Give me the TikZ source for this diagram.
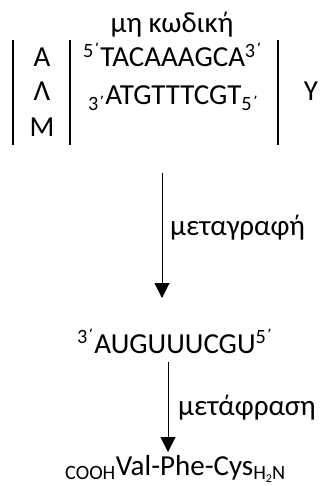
\documentclass[tikz,border=0pt]{standalone}
\usepackage{fontspec}
\setmainfont{Carlito}
\usetikzlibrary{arrows.meta}
\newcommand{\pr}{΄}
\begin{document}
\begin{tikzpicture}[x=1pt,y=-1pt,
  txt/.style={inner sep=0pt,font=\fontsize{29}{33}\selectfont},
  bar/.style={line width=2pt},
  flow/.style={line width=1pt,-{Triangle[length=15pt,width=15pt]}}]
\useasboundingbox (0,0) rectangle (332,486);
\node[txt,anchor=base] (title) at (172,33) {μη κωδική};
\coordinate (b1t) at (13,40); \coordinate (b1b) at (13,145);
\coordinate (b2t) at (70,40); \coordinate (b2b) at (70,145);
\coordinate (b3t) at (278,40); \coordinate (b3b) at (278,145);
\draw[bar] (b1t) -- (b1b);
\draw[bar] (b2t) -- (b2b);
\draw[bar] (b3t) -- (b3b);
\node[txt,anchor=base] (a) at (42,67) {Α};
\node[txt,anchor=base] (l) at (42,101) {Λ};
\node[txt,anchor=base] (m) at (42,137) {Μ};
\node[txt,anchor=base west] (s1) at (83,67) {\textsuperscript{5\pr}TACAAAGCA\textsuperscript{3\pr}};
\node[txt,anchor=base west] (s2) at (88,105) {\textsubscript{3\pr}ATGTTTCGT\textsubscript{5\pr}};
\node[txt,anchor=base] (y) at (311,101) {Υ};
\coordinate (a1s) at (162,173);
\coordinate (a1e) at (162,298);
\draw[flow] (a1s) -- (a1e);
\node[txt,anchor=base west] (tr) at (170,235) {μεταγραφή};
\node[txt,anchor=base west] (mrna) at (77,353) {\textsuperscript{3\pr}AUGUUUCGU\textsuperscript{5\pr}};
\coordinate (a2s) at (168,362);
\coordinate (a2e) at (168,452);
\draw[flow] (a2s) -- (a2e);
\node[txt,anchor=base west] (tl) at (178,415) {μετάφραση};
\node[txt,anchor=base west] (prot) at (65,475) {\textsubscript{COOH}Val-Phe-Cys\textsubscript{H\raisebox{-0.3ex}{\fontsize{12}{12}\selectfont 2}N}};
\end{tikzpicture}
\end{document}
